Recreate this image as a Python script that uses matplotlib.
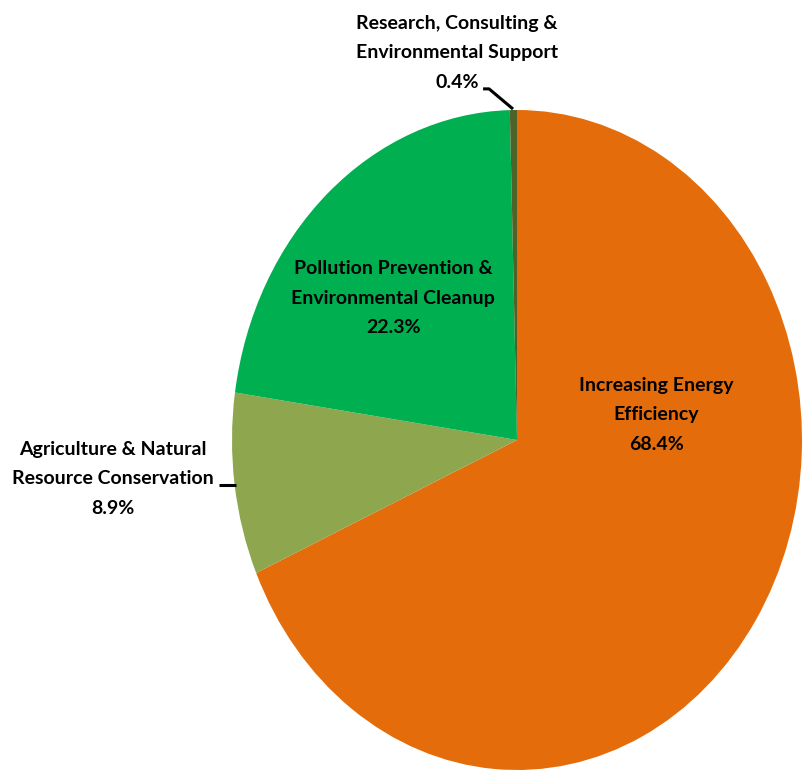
import matplotlib.pyplot as plt

plt.rcParams['font.family'] = ['Lato', 'DejaVu Sans']

# slices, clockwise from 12 o'clock
names = ['Increasing Energy\nEfficiency',
         'Agriculture & Natural\nResource Conservation',
         'Pollution Prevention &\nEnvironmental Cleanup',
         'Research, Consulting &\nEnvironmental Support']
shares = [68.4, 8.9, 22.3, 0.4]
colors = ['#E46C0A', '#8EA74F', '#00B050', '#4F6228']

# label centres in data units (pie radius = 1)
label_pos = [(0.488, 0.076), (-1.418, -0.118), (-0.435, 0.430), (-0.211, 1.173)]

fig = plt.figure(figsize=(8.08, 7.70), dpi=100)
# pie is drawn stretched vertically, like the original
ax = fig.add_axes([232 / 808, 0, 570 / 808, 660 / 770])
ax.pie(shares, colors=colors, startangle=90, counterclock=False,
       wedgeprops=dict(linewidth=0))
ax.set_aspect('auto')
ax.set_xlim(-1, 1)
ax.set_ylim(-1, 1)
ax.axis('off')

for name, s, (x, y) in zip(names, shares, label_pos):
    ax.text(x, y, '{}\n{:.1f}%'.format(name, s), ha='center', va='center',
            fontsize=14, fontweight='bold', linespacing=1.88, color='black')

# leader lines for the outside labels
ax.plot([-0.119, -0.098, -0.014], [1.064, 1.064, 1.003], color='black', lw=2.2,
        clip_on=False, solid_capstyle='butt')
ax.plot([-1.046, -0.986], [-0.136, -0.136], color='black', lw=2.2,
        clip_on=False, solid_capstyle='butt')

fig.savefig('out.png', dpi=100)
